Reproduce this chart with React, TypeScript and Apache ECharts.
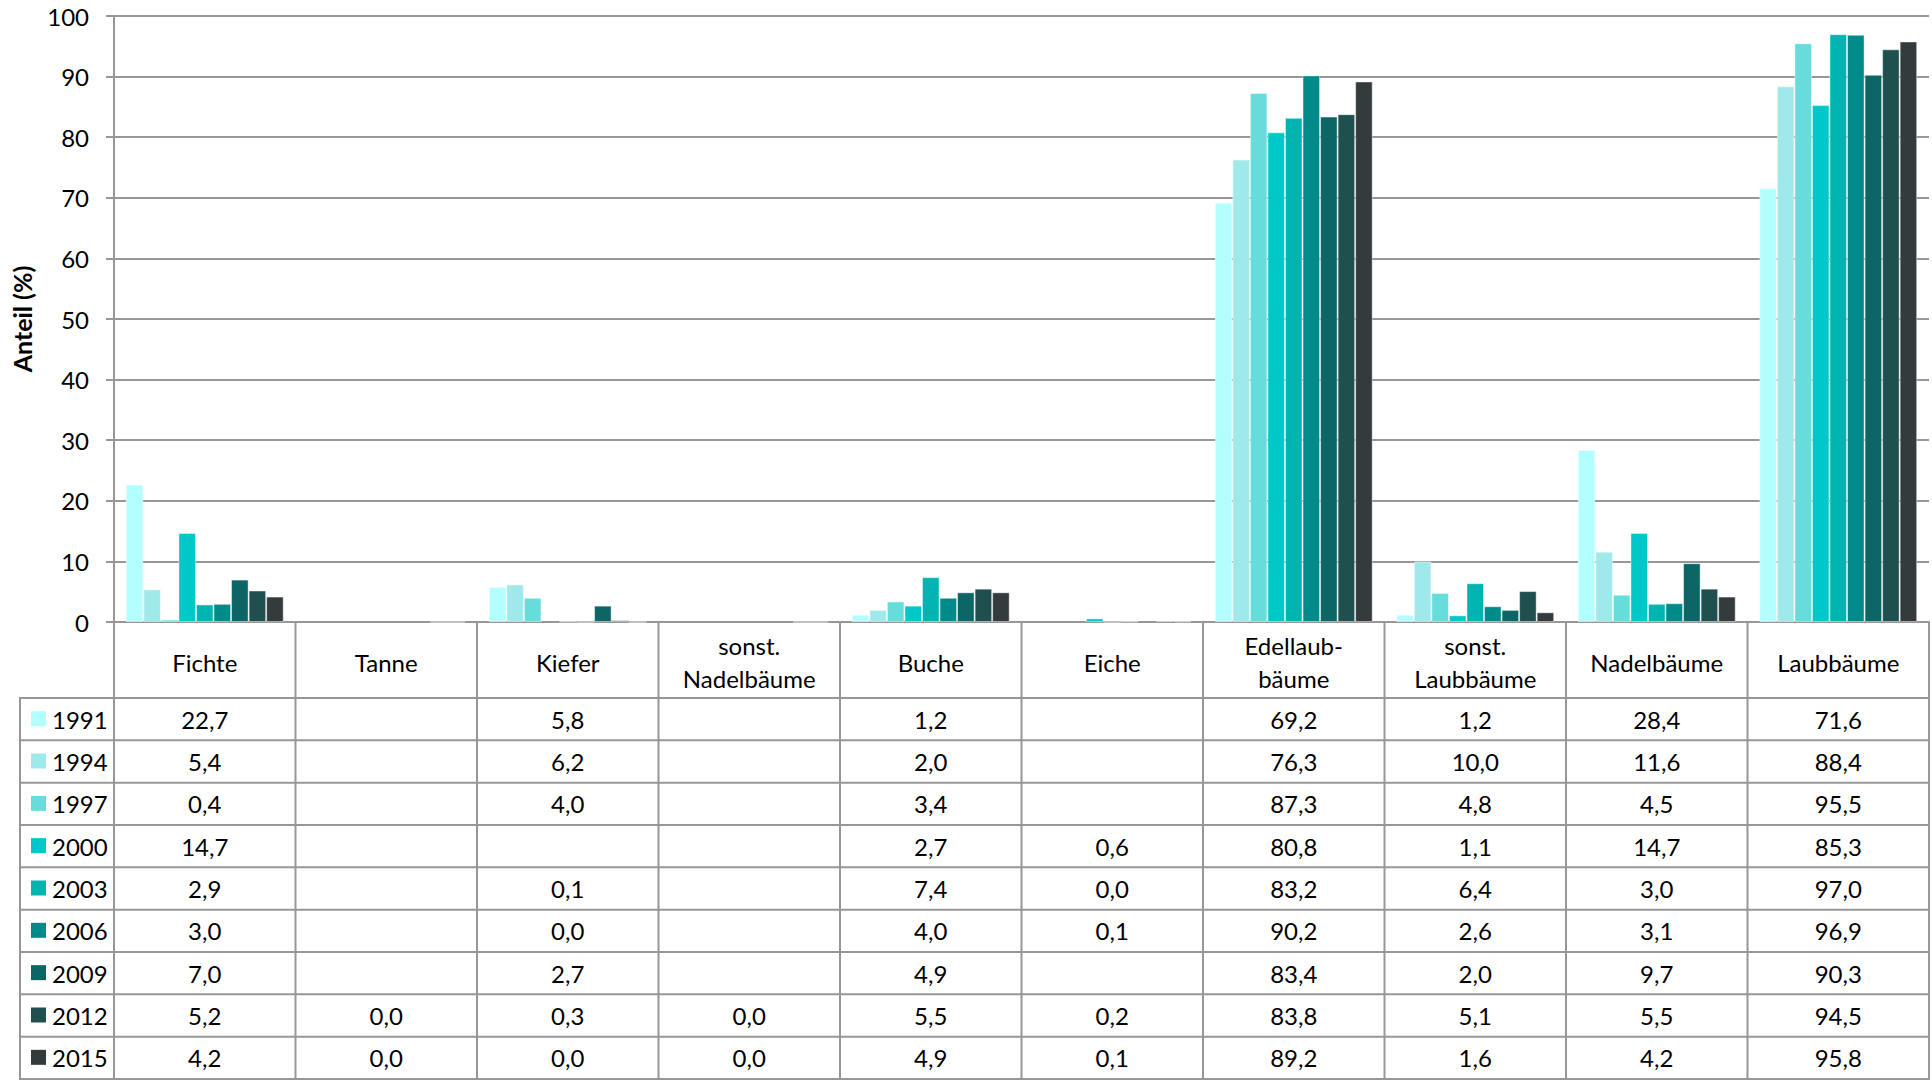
import React, { useEffect, useRef } from "react";
import * as echarts from "echarts";

const categories = [
  "Fichte",
  "Tanne",
  "Kiefer",
  "sonst.\nNadelbäume",
  "Buche",
  "Eiche",
  "Edellaub-\nbäume",
  "sonst.\nLaubbäume",
  "Nadelbäume",
  "Laubbäume",
];

const years = ["1991", "1994", "1997", "2000", "2003", "2006", "2009", "2012", "2015"];

const colors = [
  "#B3FFFF",
  "#A0E9EA",
  "#66DDDB",
  "#00C8C8",
  "#00B4B2",
  "#008B8A",
  "#0D6565",
  "#1F4F4F",
  "#333B3C",
];

type V = number | null;
const v1991: V[] = [22.7, null, 5.8, null, 1.2, null, 69.2, 1.2, 28.4, 71.6];
const v1994: V[] = [5.4, null, 6.2, null, 2.0, null, 76.3, 10.0, 11.6, 88.4];
const v1997: V[] = [0.4, null, 4.0, null, 3.4, null, 87.3, 4.8, 4.5, 95.5];
const v2000: V[] = [14.7, null, null, null, 2.7, 0.6, 80.8, 1.1, 14.7, 85.3];
const v2003: V[] = [2.9, null, 0.1, null, 7.4, 0.0, 83.2, 6.4, 3.0, 97.0];
const v2006: V[] = [3.0, null, 0.0, null, 4.0, 0.1, 90.2, 2.6, 3.1, 96.9];
const v2009: V[] = [7.0, null, 2.7, null, 4.9, null, 83.4, 2.0, 9.7, 90.3];
const v2012: V[] = [5.2, 0.0, 0.3, 0.0, 5.5, 0.2, 83.8, 5.1, 5.5, 94.5];
const v2015: V[] = [4.2, 0.0, 0.0, 0.0, 4.9, 0.1, 89.2, 1.6, 4.2, 95.8];

const seriesValues: V[][] = [v1991, v1994, v1997, v2000, v2003, v2006, v2009, v2012, v2015];

const FONT = "Lato, 'Open Sans', sans-serif";
const LINE = "#979797";

const fmt = (v: V) => (v === null ? "" : v.toFixed(1).replace(".", ","));

export default function App() {
  const ref = useRef<HTMLDivElement>(null);

  useEffect(() => {
    document.body.style.margin = "0";
    document.body.style.overflow = "hidden";
    if (!ref.current) return;
    const chart = echarts.init(ref.current, undefined, { renderer: "svg" });

    const W = 1932;
    const H = 1081;
    const gridLeft = 114;
    const gridRight = 3;
    const gridTop = 16;
    const zeroY = 622;
    const headerBottom = 698;
    const tableBottom = 1079;
    const rowH = (tableBottom - headerBottom) / years.length;
    const legendLeft = 20;

    const option: any = {
      animation: false,
      backgroundColor: "#ffffff",
      textStyle: { fontFamily: FONT },
      grid: {
        left: gridLeft,
        right: gridRight,
        top: gridTop,
        bottom: H - zeroY,
        containLabel: false,
        outerBoundsMode: "none",
      },
      xAxis: {
        type: "category",
        data: categories,
        axisLine: { show: true, lineStyle: { color: LINE, width: 2 } },
        axisTick: { show: false },
        axisLabel: {
          interval: 0,
          fontFamily: FONT,
          fontSize: 24,
          color: "#000",
          lineHeight: 33,
          margin: 40,
          verticalAlign: "middle",
        },
      },
      yAxis: {
        type: "value",
        min: 0,
        max: 100,
        interval: 10,
        name: "Anteil (%)",
        nameLocation: "middle",
        nameRotate: 90,
        nameGap: 80,
        nameTextStyle: { fontFamily: FONT, fontSize: 25, fontWeight: "bold", color: "#000" },
        axisLine: { show: true, lineStyle: { color: LINE, width: 2 } },
        axisTick: { show: true, length: 8, lineStyle: { color: LINE, width: 2 } },
        axisLabel: { fontFamily: FONT, fontSize: 24, color: "#000", margin: 25 },
        splitLine: { show: true, lineStyle: { color: LINE, width: 2 } },
      },
      series: years.map((y, i) => ({
        name: y,
        type: "bar",
        data: seriesValues[i],
        barGap: "0%",
        barCategoryGap: "13%",
        itemStyle: {
          color: colors[i],
          borderColor: "rgba(255,255,255,0.45)",
          borderWidth: 1,
        },
      })),
    };

    chart.setOption(option);

    const colCenters = categories.map((c) => chart.convertToPixel({ xAxisIndex: 0 }, c) as number);
    const half = (colCenters[1] - colCenters[0]) / 2;
    const boundaries = [colCenters[0] - half, ...colCenters.map((c) => c + half)];
    const rightEdge = boundaries[boundaries.length - 1];

    const graphics: any[] = [];
    // horizontal table lines
    for (let r = 0; r <= years.length; r++) {
      const y = headerBottom + r * rowH;
      graphics.push({
        type: "line",
        shape: { x1: legendLeft, y1: y, x2: rightEdge, y2: y },
        style: { stroke: LINE, lineWidth: 2 },
        silent: true,
      });
    }
    // legend column left border
    graphics.push({
      type: "line",
      shape: { x1: legendLeft, y1: headerBottom - 1, x2: legendLeft, y2: tableBottom + 1 },
      style: { stroke: LINE, lineWidth: 2 },
      silent: true,
    });
    // column boundaries through header and table
    boundaries.forEach((bx) => {
      graphics.push({
        type: "line",
        shape: { x1: bx, y1: zeroY, x2: bx, y2: tableBottom + 1 },
        style: { stroke: LINE, lineWidth: 2 },
        silent: true,
      });
    });

    years.forEach((y, r) => {
      const cy = headerBottom + r * rowH + rowH / 2;
      graphics.push({
        type: "rect",
        shape: { x: 31, y: cy - 8, width: 15, height: 15 },
        style: { fill: colors[r] },
        silent: true,
      });
      graphics.push({
        type: "text",
        x: 52,
        y: cy,
        style: {
          text: y,
          font: `24px ${FONT}`,
          fill: "#000",
          textAlign: "left",
          textVerticalAlign: "middle",
          align: "left",
          verticalAlign: "middle",
        },
        silent: true,
      });
      seriesValues[r].forEach((v, c) => {
        if (v === null) return;
        graphics.push({
          type: "text",
          x: colCenters[c],
          y: cy,
          style: {
            text: fmt(v),
            font: `24px ${FONT}`,
            fill: "#000",
            textAlign: "center",
            textVerticalAlign: "middle",
            align: "center",
            verticalAlign: "middle",
          },
          silent: true,
        });
      });
    });

    chart.setOption({ graphic: graphics });

    return () => {
      chart.dispose();
    };
  }, []);

  return <div ref={ref} style={{ width: 1932, height: 1081 }} />;
}
